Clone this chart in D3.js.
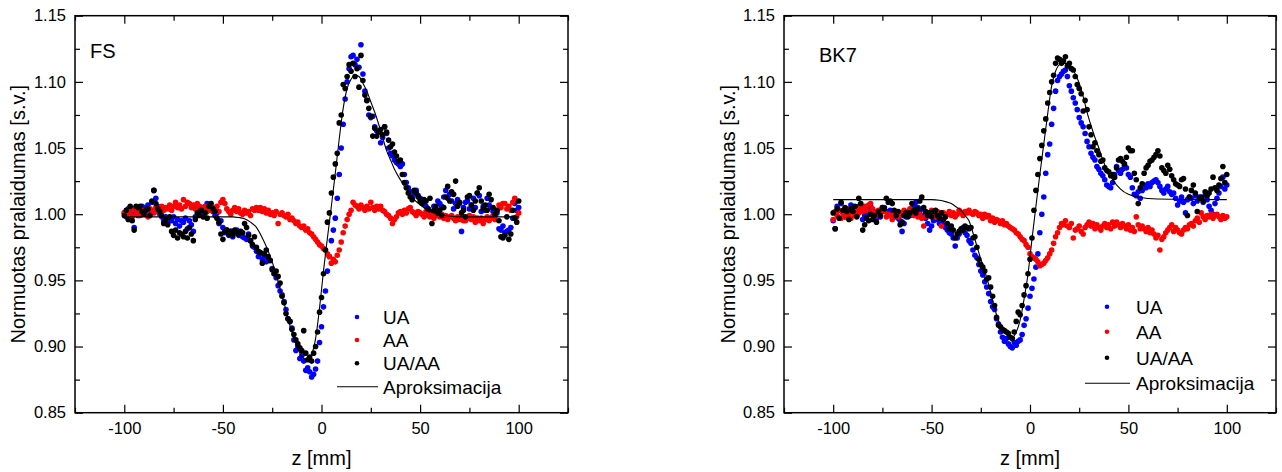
<!DOCTYPE html>
<html><head><meta charset="utf-8">
<script src="https://cdn.jsdelivr.net/npm/d3@7"></script>
<style>
body{margin:0;background:#fff}
text{font-family:"Liberation Sans",Arial,Helvetica,sans-serif;fill:#000}
</style>
</head><body>
<svg id="chart" width="1282" height="472"></svg>
<script>
// ---------- DATA ----------
const zPositions = d3.range(-100, 101, 1);  // scan positions, mm
const xTickValues = [-100, -50, 0, 50, 100];
const xTickLabels = ["-100", "-50", "0", "50", "100"];
const xMinorTicks = [-125, -75, -25, 25, 75, 125];
const yTickValues = [0.85, 0.90, 0.95, 1.00, 1.05, 1.10, 1.15];
const yTickLabels = ["0.85", "0.90", "0.95", "1.00", "1.05", "1.10", "1.15"];
const yMinorTicks = [0.875, 0.925, 0.975, 1.025, 1.075, 1.125];
const legendLabels = ["UA", "AA", "UA/AA", "Aproksimacija"];
const xTitle = "z [mm]";
const yTitle = "Normuotas pralaidumas [s.v.]";

// FS sample
const fsUA = [
1.001,0.998,1.004,1.002,1.000,0.990,1.003,0.999,1.002,1.006,
1.004,1.005,1.007,1.003,1.009,1.018,1.012,1.006,1.000,0.998,
0.995,0.998,0.993,0.997,0.995,0.998,0.993,0.996,0.991,0.995,
0.994,0.997,0.989,0.995,0.992,0.987,0.998,1.004,1.006,1.002,
1.005,1.003,1.008,1.004,1.006,1.002,0.999,1.001,0.993,0.995,
0.990,0.986,0.988,0.984,0.987,0.983,0.986,0.988,0.984,0.986,
0.983,0.982,0.981,0.985,0.980,0.976,0.975,0.972,0.968,0.970,
0.966,0.968,0.964,0.967,0.965,0.959,0.955,0.952,0.946,0.942,
0.939,0.934,0.928,0.921,0.919,0.914,0.905,0.897,0.900,0.891,
0.893,0.889,0.882,0.884,0.881,0.877,0.879,0.883,0.889,0.903,
0.915,0.930,0.942,0.957,0.968,0.980,0.988,0.997,1.012,1.030,
1.050,1.068,1.087,1.100,1.110,1.119,1.120,1.113,1.117,1.111,
1.128,1.106,1.093,1.086,1.075,1.073,1.074,1.066,1.063,1.062,
1.054,1.058,1.066,1.061,1.050,1.046,1.044,1.041,1.039,1.038,
1.036,1.038,1.030,1.024,1.020,1.017,1.013,1.016,1.018,1.014,
1.012,1.011,1.008,1.006,1.004,1.002,1.000,1.006,1.004,1.010,
1.008,1.006,1.013,1.018,1.012,1.015,1.010,1.004,1.008,1.011,
1.008,0.987,1.005,1.009,1.010,1.004,1.007,1.012,1.005,1.016,
1.014,1.002,1.006,1.003,1.012,1.007,1.005,1.002,0.999,1.001,
0.989,0.988,0.991,0.986,0.987,0.988,0.990,0.997,1.008,1.003,1.005];
const fsAA = [
1.001,0.999,1.003,1.001,0.998,1.004,1.000,1.002,0.999,1.003,
1.000,1.002,0.998,1.004,1.003,1.001,1.005,1.002,1.004,1.006,
1.003,1.005,1.004,1.007,1.003,1.006,1.009,1.005,1.007,1.004,
1.011,1.006,1.009,1.008,1.005,1.007,1.004,1.008,1.006,1.005,
1.003,1.006,1.002,1.004,1.003,1.005,1.003,1.006,1.002,1.009,
1.011,1.008,1.004,1.002,1.000,1.003,1.005,1.002,1.004,1.001,
1.000,1.003,1.001,1.002,0.999,1.004,1.003,1.005,1.003,1.005,
1.002,1.004,1.001,1.003,1.000,1.001,0.999,1.002,0.993,1.000,
1.001,0.999,0.998,1.000,0.996,0.997,0.995,0.993,0.994,0.991,
0.990,0.991,0.988,0.989,0.986,0.985,0.983,0.981,0.979,0.977,
0.976,0.974,0.973,0.970,0.968,0.963,0.966,0.964,0.969,0.973,
0.979,0.986,0.991,0.996,1.000,1.003,1.009,1.007,1.006,1.004,
1.007,1.005,1.003,1.006,1.004,1.009,1.005,1.003,1.006,1.004,
1.006,1.003,1.002,1.000,0.999,0.997,0.993,0.996,0.998,1.001,
1.002,1.000,1.003,1.001,1.004,1.005,1.002,1.001,0.999,1.002,
1.001,1.000,0.998,1.002,0.999,0.998,1.000,0.997,1.001,0.999,
0.998,1.000,0.997,0.999,0.996,0.998,0.999,0.997,0.995,0.998,
0.996,0.998,0.995,0.995,0.997,0.999,0.996,0.998,0.994,0.997,
0.995,0.997,0.993,0.996,0.998,0.995,0.997,0.999,0.996,1.003,
1.007,1.005,1.008,1.008,1.004,1.006,1.003,1.009,1.012,0.998,1.001];
const fsRatio = [
0.999,1.003,0.996,1.006,0.995,0.988,1.006,1.005,1.006,1.002,
1.000,1.003,1.004,0.999,1.010,1.018,1.008,1.004,1.002,0.999,
0.993,0.996,0.992,0.998,0.987,0.984,0.988,0.982,0.986,0.985,
0.983,0.987,0.982,0.990,0.985,0.980,0.996,1.001,0.999,1.003,
0.998,1.001,0.997,1.006,1.008,1.004,1.002,0.997,0.994,0.985,
0.981,0.987,0.988,0.985,0.987,0.984,0.988,0.986,0.985,0.987,
0.986,0.993,0.990,0.984,0.980,0.977,0.983,0.975,0.972,0.971,
0.963,0.970,0.973,0.968,0.965,0.958,0.955,0.957,0.953,0.948,
0.938,0.933,0.925,0.921,0.919,0.913,0.909,0.905,0.902,0.899,
0.897,0.912,0.895,0.890,0.892,0.889,0.895,0.900,0.911,0.926,
0.937,0.955,0.973,0.994,1.001,1.016,1.028,1.038,1.046,1.069,
1.075,1.098,1.095,1.104,1.113,1.108,1.114,1.104,1.110,1.096,
1.120,1.101,1.090,1.086,1.080,1.074,1.059,1.065,1.059,1.062,
1.064,1.060,1.066,1.062,1.056,1.051,1.053,1.047,1.044,1.040,
1.041,1.030,1.024,1.020,1.016,1.013,1.011,1.018,1.016,1.013,
1.010,1.008,1.011,1.010,1.004,1.012,0.993,1.003,1.006,1.001,
1.003,0.999,1.005,1.013,1.021,1.010,1.017,1.015,1.025,1.006,
1.009,1.001,1.003,0.998,1.013,1.014,1.007,1.003,1.010,1.016,
1.020,1.010,1.004,1.007,1.003,1.015,1.011,1.005,1.000,1.003,
0.995,0.983,0.982,0.984,0.998,0.981,0.985,1.003,0.997,0.994,1.010];
const fsFitZ = [-100,-60,-45,-42,-39,-36,-33,-30,-27,-25,-22,-19,-16,-13,-11,-9,-7,-5,-3,-1,1,3,5,7,9,11,13,15,17,19,21,23,25,27,29,31,33,35,37,40,43,47,51,55,60,70,100];
const fsFitV = [0.998,0.998,0.998,0.9975,0.9965,0.994,0.990,0.982,0.972,0.964,0.949,0.933,0.916,0.902,0.895,0.891,0.890,0.894,0.906,0.929,0.957,0.982,1.006,1.031,1.057,1.080,1.095,1.102,1.105,1.104,1.099,1.093,1.085,1.077,1.068,1.058,1.048,1.041,1.034,1.026,1.019,1.011,1.006,1.002,1.000,0.998,0.998];

// BK7 sample
const bkUA = [
0.995,0.989,1.006,1.003,1.008,1.001,0.998,1.004,1.002,1.007,
1.005,1.002,0.999,1.006,1.003,0.996,0.999,1.001,1.004,1.006,
1.003,1.000,0.997,1.002,0.998,1.003,1.005,1.002,0.999,1.003,
1.001,0.998,1.000,0.997,0.995,0.987,0.993,0.998,1.002,0.999,
1.003,1.006,1.009,1.005,1.002,1.004,0.999,0.997,0.993,0.988,
0.991,0.995,0.998,0.996,0.993,0.995,0.992,0.990,0.988,0.986,
0.985,0.982,0.976,0.982,0.985,0.988,0.990,0.986,0.984,0.980,
0.978,0.973,0.969,0.967,0.962,0.957,0.954,0.949,0.945,0.940,
0.934,0.930,0.928,0.921,0.917,0.911,0.907,0.904,0.906,0.902,
0.900,0.899,0.903,0.901,0.904,0.905,0.909,0.916,0.921,0.929,
0.938,0.944,0.951,0.960,0.970,0.986,1.000,1.013,1.031,1.045,
1.053,1.068,1.080,1.093,1.101,1.104,1.106,1.108,1.109,1.104,
1.097,1.093,1.088,1.084,1.079,1.073,1.069,1.066,1.061,1.055,
1.051,1.046,1.043,1.041,1.036,1.034,1.031,1.029,1.026,1.022,
1.021,1.020,1.024,1.030,1.036,1.033,1.031,1.034,1.037,1.035,
1.030,1.028,1.020,1.015,1.014,1.017,1.012,1.018,1.022,1.020,
1.023,1.021,1.024,1.025,1.026,1.024,1.021,1.018,1.016,1.019,
1.021,1.017,1.015,1.016,1.012,1.007,1.010,1.013,1.009,1.001,
1.011,1.013,1.012,1.008,1.014,1.010,1.013,1.012,1.009,1.014,
1.011,1.006,1.003,1.000,1.008,1.012,1.016,1.021,1.028,1.019,1.022];
const bkAA = [
0.996,1.002,0.999,1.003,0.997,1.001,0.998,1.004,1.000,0.997,
1.002,0.999,1.003,1.001,1.005,1.002,1.006,1.003,1.007,1.008,
1.004,1.002,0.999,1.003,1.001,1.005,1.002,0.998,1.000,0.999,
0.996,1.000,1.002,0.998,1.001,0.999,1.003,1.000,1.002,1.004,
1.001,0.999,1.002,0.998,1.000,0.997,0.991,0.998,1.001,0.999,
1.003,1.000,0.998,1.002,0.999,0.991,1.001,0.998,1.000,1.002,
0.999,1.001,0.998,1.000,1.003,1.001,0.999,1.002,1.001,1.003,
1.001,1.000,1.002,1.001,0.999,1.000,0.997,1.000,0.998,0.999,
0.995,0.997,0.994,0.996,0.995,0.993,0.995,0.992,0.993,0.991,
0.990,0.989,0.988,0.986,0.985,0.983,0.981,0.980,0.977,0.975,
0.970,0.968,0.967,0.966,0.964,0.961,0.962,0.963,0.965,0.967,
0.970,0.973,0.978,0.983,0.986,0.990,0.993,0.992,0.995,0.991,
0.990,0.993,0.982,0.988,0.989,0.991,0.987,0.985,0.990,0.992,
0.994,0.991,0.993,0.989,0.992,0.990,0.988,0.991,0.993,0.990,
0.992,0.989,0.994,0.991,0.994,0.992,0.990,0.993,0.991,0.989,
0.992,0.988,0.990,0.987,0.998,0.992,0.989,0.991,0.989,0.987,
0.990,0.986,0.988,0.985,0.982,0.984,0.973,0.981,0.983,0.986,
0.988,0.990,0.992,0.987,0.990,0.988,0.986,0.985,0.988,0.990,
0.989,0.992,0.993,0.991,0.995,0.997,0.994,1.001,0.998,0.996,
0.999,0.998,1.000,0.997,0.999,1.000,0.998,0.996,0.999,0.997,0.998];
const bkRatio = [
1.001,0.989,1.004,0.997,1.009,1.003,1.005,1.002,0.996,1.004,
1.002,1.006,0.998,1.012,1.008,0.988,0.992,0.997,0.995,1.000,
0.996,0.999,0.994,1.002,0.999,1.005,1.004,1.012,1.009,1.010,
1.008,1.003,0.999,1.002,0.992,0.994,0.999,1.001,0.998,1.001,
1.008,1.003,1.001,1.004,1.010,1.013,1.005,1.002,0.999,1.001,
0.998,1.002,1.003,0.999,0.997,1.001,0.996,0.998,0.993,0.989,
0.991,0.988,0.982,0.985,0.987,0.989,0.988,0.991,0.990,0.989,
0.990,0.982,0.983,0.975,0.966,0.962,0.960,0.957,0.951,0.952,
0.945,0.938,0.931,0.922,0.916,0.915,0.913,0.912,0.911,0.910,
0.907,0.906,0.911,0.919,0.926,0.924,0.931,0.939,0.946,0.955,
0.966,0.982,1.003,1.018,1.030,1.042,1.052,1.063,1.072,1.084,
1.092,1.100,1.105,1.114,1.118,1.117,1.114,1.116,1.119,1.112,
1.114,1.110,1.109,1.104,1.098,1.095,1.091,1.078,1.086,1.079,
1.066,1.060,1.051,1.054,1.048,1.045,1.040,1.041,1.035,1.033,
1.032,1.029,1.030,1.028,1.035,1.041,1.042,1.040,1.038,1.043,
1.050,1.048,1.048,1.031,1.026,1.008,1.020,1.023,1.031,1.035,
1.037,1.040,1.041,1.043,1.045,1.048,1.044,1.035,1.033,1.031,
1.037,1.034,1.029,1.026,1.023,1.022,1.021,1.026,1.027,1.019,
0.999,1.013,1.018,1.022,1.016,1.002,1.012,1.013,1.010,1.017,
1.014,1.016,1.019,1.028,1.020,1.018,1.022,1.027,1.036,1.024,1.030];
const bkFitZ = [-100,-50,-46,-43,-40,-37,-35,-33,-31,-29,-27,-25,-23,-21,-19,-17,-15,-13,-11,-9,-7,-5,-3,-1,1,3,5,7,9,11,13,15,17,19,21,23,25,27,29,31,33,35,37,39,42,46,50,55,65,100];
const bkFitV = [1.011,1.011,1.0105,1.0095,1.008,1.005,1.003,0.999,0.995,0.986,0.976,0.966,0.957,0.947,0.935,0.924,0.916,0.911,0.908,0.907,0.911,0.920,0.936,0.955,0.981,1.006,1.030,1.053,1.076,1.097,1.108,1.113,1.114,1.114,1.1115,1.106,1.099,1.089,1.077,1.067,1.058,1.050,1.041,1.034,1.026,1.019,1.015,1.013,1.0115,1.011];

// ---------- LAYOUT ----------
const panels = [
  {name:"FS", ua:fsUA, aa:fsAA, ratio:fsRatio, fitZ:fsFitZ, fitV:fsFitV,
   x0:75, x1:568, y0:15.7, y1:412.7, titleX:25, nameX:90, nameY:58,
   leg:{mx:357, tx:383, ys:[317,340,363.3,386.7], l0:337, l1:378}},
  {name:"BK7", ua:bkUA, aa:bkAA, ratio:bkRatio, fitZ:bkFitZ, fitV:bkFitV,
   x0:784, x1:1276, y0:15.7, y1:412.7, titleX:735, nameX:819, nameY:62,
   leg:{mx:1107, tx:1136, ys:[306.7,331.7,357.7,383.3], l0:1085, l1:1130}}
];
const colUA = "#0000ff", colAA = "#ff0000", colRatio = "#000000";
const svg = d3.select("#chart");

panels.forEach(p => {
  const x = d3.scaleLinear().domain([-125, 125]).range([p.x0, p.x1]);
  const y = d3.scaleLinear().domain([0.85, 1.15]).range([p.y1, p.y0]);
  const g = svg.append("g");

  const fmtY = v => yTickLabels[yTickValues.indexOf(v)];
  const fmtX = v => xTickLabels[xTickValues.indexOf(v)];
  // bottom axis (major with labels)
  g.append("g").attr("transform", `translate(0,${p.y1})`)
    .call(d3.axisBottom(x).tickValues(xTickValues).tickSize(-8).tickPadding(10).tickFormat(fmtX));
  g.append("g").attr("transform", `translate(0,${p.y1})`)
    .call(d3.axisBottom(x).tickValues(xMinorTicks).tickSize(-5).tickFormat(""));
  // top axis
  g.append("g").attr("transform", `translate(0,${p.y0})`)
    .call(d3.axisTop(x).tickValues(xTickValues).tickSize(-8).tickFormat(""));
  g.append("g").attr("transform", `translate(0,${p.y0})`)
    .call(d3.axisTop(x).tickValues(xMinorTicks).tickSize(-5).tickFormat(""));
  // left axis
  g.append("g").attr("transform", `translate(${p.x0},0)`)
    .call(d3.axisLeft(y).tickValues(yTickValues).tickSize(-8).tickPadding(9).tickFormat(fmtY));
  g.append("g").attr("transform", `translate(${p.x0},0)`)
    .call(d3.axisLeft(y).tickValues(yMinorTicks).tickSize(-5).tickFormat(""));
  // right axis
  g.append("g").attr("transform", `translate(${p.x1},0)`)
    .call(d3.axisRight(y).tickValues(yTickValues).tickSize(-8).tickFormat(""));
  g.append("g").attr("transform", `translate(${p.x1},0)`)
    .call(d3.axisRight(y).tickValues(yMinorTicks).tickSize(-5).tickFormat(""));

  g.selectAll(".domain").remove();
  g.selectAll(".tick line").attr("stroke", "#000").attr("stroke-width", 1.2);
  g.selectAll(".tick text").attr("font-size", "16.5px").attr("fill", "#000")
    .attr("font-family", '"Liberation Sans",Arial,sans-serif');

  // frame
  g.append("rect").attr("x", p.x0).attr("y", p.y0)
    .attr("width", p.x1 - p.x0).attr("height", p.y1 - p.y0)
    .attr("fill", "none").attr("stroke", "#000").attr("stroke-width", 1.5);

  // points
  const series = [[p.ua, colUA], [p.aa, colAA], [p.ratio, colRatio]];
  series.forEach(([vals, col]) => {
    g.append("g").selectAll("circle").data(vals).join("circle")
      .attr("cx", (d, i) => x(zPositions[i])).attr("cy", d => y(d))
      .attr("r", 2.8).attr("fill", col);
  });

  // fit
  const line = d3.line().x(d => x(d[0])).y(d => y(d[1])).curve(d3.curveMonotoneX);
  g.append("path").datum(p.fitZ.map((z, i) => [z, p.fitV[i]]))
    .attr("d", line).attr("fill", "none").attr("stroke", "#000").attr("stroke-width", 1.1);

  // panel name
  g.append("text").attr("x", p.nameX).attr("y", p.nameY).attr("font-size", "20px").text(p.name);

  // axis titles
  g.append("text").attr("x", (p.x0 + p.x1) / 2).attr("y", 465).attr("text-anchor", "middle")
    .attr("font-size", "20px").text(xTitle);
  g.append("text").attr("transform", `translate(${p.titleX},${(p.y0 + p.y1) / 2}) rotate(-90)`)
    .attr("text-anchor", "middle").attr("font-size", "20px").text(yTitle);

  // legend
  const L = p.leg;
  [colUA, colAA, colRatio].forEach((c, i) => {
    g.append("circle").attr("cx", L.mx).attr("cy", L.ys[i]).attr("r", 2.3).attr("fill", c);
  });
  g.append("line").attr("x1", L.l0).attr("x2", L.l1).attr("y1", L.ys[3]).attr("y2", L.ys[3])
    .attr("stroke", "#000").attr("stroke-width", 1.1);
  legendLabels.forEach((t, i) => {
    g.append("text").attr("x", L.tx).attr("y", L.ys[i]).attr("dy", "0.36em")
      .attr("font-size", "19px").text(t);
  });
});
</script>
</body></html>
